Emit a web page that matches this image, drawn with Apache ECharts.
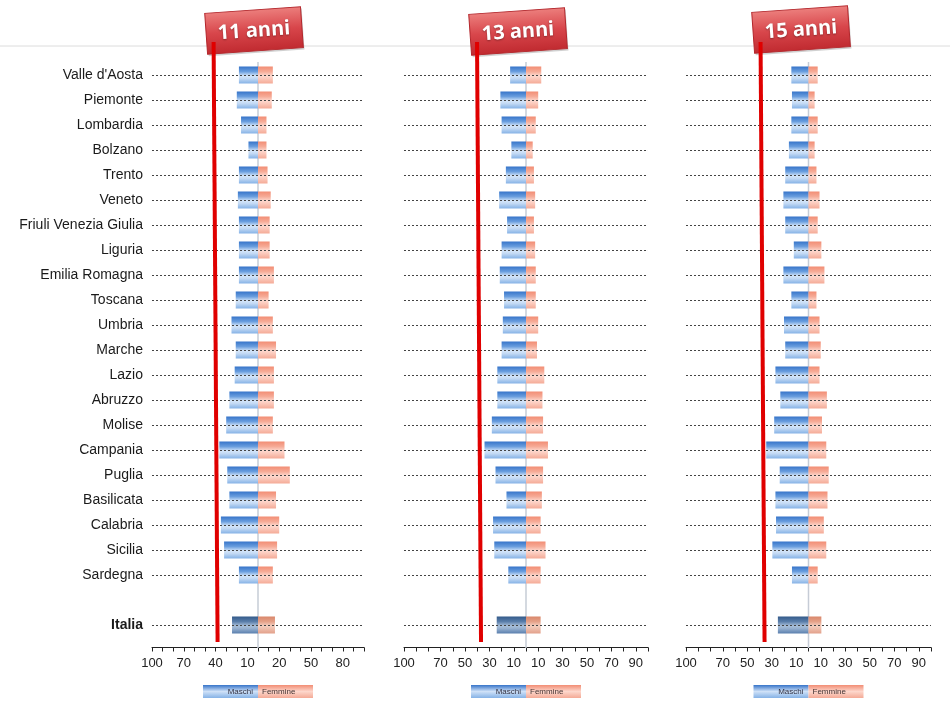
<!DOCTYPE html>
<html><head><meta charset="utf-8">
<script src="https://cdn.jsdelivr.net/npm/echarts@6/dist/echarts.min.js"></script>
<style>html,body{margin:0;padding:0;background:#fff}#c{width:950px;height:704px}</style>
</head><body><div id="c"></div>
<script>
var categories = ["Valle d'Aosta","Piemonte","Lombardia","Bolzano","Trento","Veneto","Friuli Venezia Giulia","Liguria","Emilia Romagna","Toscana","Umbria","Marche","Lazio","Abruzzo","Molise","Campania","Puglia","Basilicata","Calabria","Sicilia","Sardegna","","Italia"];
var panelTitles = ["11 anni","13 anni","15 anni"];
var maschi11  = [18,20,16,9,18,19,18,18,18,21,25,21,22,27,30,36.5,29,27,35,32,18,null,24.5];
var femmine11 = [14,13,8,8,9,12,11,11,15,10,14,17,15,15,14,25,30,17,20,18,14,null,16];
var maschi13  = [13,21,20,12,16.5,22,15.5,20,21.5,18,19,20,23.5,23.5,28,34,25,16,27,26,14.5,null,24];
var femmine13 = [12.5,10,8,5.5,6.5,7.5,6.5,7.5,8,8,10,9,15,13.5,14,18,14,13,12,16,12,null,12];
var maschi15  = [14,13.5,14,16,19,20.5,19,12,20.5,14,20,19,27,23,28,34.5,23.5,27,26.5,29.5,13.5,null,25];
var femmine15 = [7.5,5,7.5,5,6.5,9,7.5,10.5,13,6.5,9,10,9,15,11,14.5,16.5,15.5,12.5,14.5,7.5,null,10.5];
var soglia = [40, 38.5, 37.5];
var tickLabels11 = [-100,-70,-40,-10,20,50,80];
var tickLabels1315 = [-100,-70,-50,-30,-10,10,30,50,70,90];
var legendNames = ["Maschi","Femmine"];

var maschi = [maschi11, maschi13, maschi15];
var femmine = [femmine11, femmine13, femmine15];
var tickSets = [tickLabels11, tickLabels1315, tickLabels1315];

var grids = [
  {left:152, width:212, top:62.5, height:575},
  {left:404, width:244, top:62.5, height:575},
  {left:686, width:245, top:62.5, height:575}
];

function grad(stops) {
  var cs = [];
  for (var i = 0; i < stops.length; i++) { cs.push({offset: stops[i][0], color: stops[i][1]}); }
  return new echarts.graphic.LinearGradient(0, 0, 0, 1, cs);
}
function blueG() { return grad([[0,'#3674c9'],[0.3,'#6a9ede'],[0.55,'#d5e6f9'],[0.7,'#c4daf4'],[1,'#85b2e6']]); }
function redG() { return grad([[0,'#f28d74'],[0.3,'#f6ab97'],[0.55,'#fdd9cf'],[0.7,'#fbcabd'],[1,'#f4aa96']]); }
function blueDarkG() { return grad([[0,'#335a8a'],[0.3,'#5a7eaa'],[0.55,'#a9bfd9'],[0.7,'#97b1d0'],[1,'#5a7fae']]); }
function redDarkG() { return grad([[0,'#d9876b'],[0.3,'#e5a188'],[0.55,'#f4cfc0'],[0.7,'#efc0ae'],[1,'#e2a08a']]); }

function makeTickFormatter(ticks) {
  return function (v) { return ticks.indexOf(v) >= 0 ? String(Math.abs(v)) : ''; };
}
function yFormatter(v) { return v === 'Italia' ? '{b|Italia}' : v; }

var xAxes = [], yAxes = [], series = [];
for (var p = 0; p < 3; p++) {
  xAxes.push({
    type: 'value', gridIndex: p, min: -100, max: 100, interval: 10, offset: 10,
    axisLine: {show: true, onZero: false, lineStyle: {color: '#222', width: 1}},
    axisTick: {show: true, length: 4, lineStyle: {color: '#222'}},
    splitLine: {show: false},
    axisLabel: {interval: 0, hideOverlap: false, margin: 9, color: '#222', fontSize: 13, fontFamily: 'Liberation Sans',
      formatter: makeTickFormatter(tickSets[p])}
  });
  yAxes.push({
    type: 'category', gridIndex: p, data: categories, inverse: true,
    axisLine: {show: false}, axisTick: {show: false}, splitLine: {show: false},
    axisLabel: {show: p === 0, margin: 9, color: '#1a1a1a', fontSize: 14, fontFamily: 'Liberation Sans',
      formatter: yFormatter,
      rich: {b: {fontWeight: 'bold', fontSize: 14, fontFamily: 'Liberation Sans', color: '#1a1a1a'}}}
  });
  var ml = [];
  var empty = [];
  for (var i = 0; i < categories.length; i++) {
    empty.push(null);
    if (categories[i] !== '') {
      ml.push({yAxis: categories[i], lineStyle: {color: '#444', width: 1, type: [2, 2]}});
    }
  }
  series.push({
    type: 'line', xAxisIndex: p, yAxisIndex: p, z: 1, silent: true,
    data: empty,
    markLine: {silent: true, symbol: 'none', label: {show: false}, data: ml}
  });
  var md = [], fd = [];
  for (var j = 0; j < categories.length; j++) {
    var mv = maschi[p][j], fv = femmine[p][j];
    if (mv == null) { md.push('-'); fd.push('-'); continue; }
    if (categories[j] === 'Italia') {
      md.push({value: -mv, itemStyle: {color: blueDarkG()}});
      fd.push({value: fv, itemStyle: {color: redDarkG()}});
    } else {
      md.push(-mv);
      fd.push(fv);
    }
  }
  series.push({
    name: legendNames[0], type: 'bar', stack: 's' + p, xAxisIndex: p, yAxisIndex: p, z: 3, barWidth: 17,
    itemStyle: {color: blueG()}, data: md
  });
  series.push({
    name: legendNames[1], type: 'bar', stack: 's' + p, xAxisIndex: p, yAxisIndex: p, z: 3, barWidth: 17,
    itemStyle: {color: redG()}, data: fd
  });
}

var chart = echarts.init(document.getElementById('c'), null, {renderer: 'canvas'});
chart.setOption({
  animation: false,
  backgroundColor: '#ffffff',
  grid: grids,
  xAxis: xAxes,
  yAxis: yAxes,
  series: series
});

var graphics = [];
graphics.push({type: 'line', shape: {x1: 0, y1: 46, x2: 950, y2: 46}, style: {stroke: '#dcdcdc', lineWidth: 1}, z: 0});
var badgeCenters = [[254, 30], [518, 31], [801, 29]];
for (var q = 0; q < 3; q++) {
  var x = chart.convertToPixel({xAxisIndex: q}, -soglia[q]);
  var zx = chart.convertToPixel({xAxisIndex: q}, 0);
  graphics.push({type: 'line', shape: {x1: zx, y1: 62, x2: zx, y2: 648}, style: {stroke: '#c6ccd6', lineWidth: 1.5}, z: 1});
  graphics.push({type: 'line', shape: {x1: x - 2, y1: 42, x2: x + 2, y2: 642}, style: {stroke: '#e00000', lineWidth: 4}, z: 10});
  var cx = badgeCenters[q][0], cy = badgeCenters[q][1];
  graphics.push({
    type: 'group', x: cx, y: cy, rotation: 0.07, z: 20,
    children: [
      {type: 'rect', x: 1, y: 2, shape: {x: -48, y: -20, width: 96, height: 41}, style: {fill: '#b0b0b0', opacity: 0.6}},
      {type: 'rect', shape: {x: -48, y: -20, width: 96, height: 41},
        style: {fill: grad([[0,'#ec7f7d'],[0.5,'#d8464b'],[1,'#c02a30']]), stroke: '#b3262b', lineWidth: 1}},
      {type: 'text', style: {text: panelTitles[q], x: 0, y: 1, align: 'center', verticalAlign: 'middle',
        fill: '#ffffff', font: 'bold 20px "Open Sans", "Liberation Sans", sans-serif',
        textShadowColor: 'rgba(0,0,0,0.35)', textShadowBlur: 2, textShadowOffsetY: 1}}
    ]
  });
  graphics.push({type: 'rect', shape: {x: zx - 55, y: 685, width: 55, height: 13}, style: {fill: grad([[0,'#3674c9'],[0.5,'#cfe1f7'],[1,'#85b2e6']])}, z: 5});
  graphics.push({type: 'rect', shape: {x: zx, y: 685, width: 55, height: 13}, style: {fill: grad([[0,'#f28d74'],[0.5,'#fdd7cc'],[1,'#f4aa96']])}, z: 5});
  graphics.push({type: 'text', style: {text: legendNames[0], x: zx - 5, y: 691.5, align: 'right', verticalAlign: 'middle', fill: '#334', font: '8px "Liberation Sans", sans-serif'}, z: 6});
  graphics.push({type: 'text', style: {text: legendNames[1], x: zx + 4, y: 691.5, align: 'left', verticalAlign: 'middle', fill: '#433', font: '8px "Liberation Sans", sans-serif'}, z: 6});
}
chart.setOption({graphic: graphics});
</script>
</body></html>
